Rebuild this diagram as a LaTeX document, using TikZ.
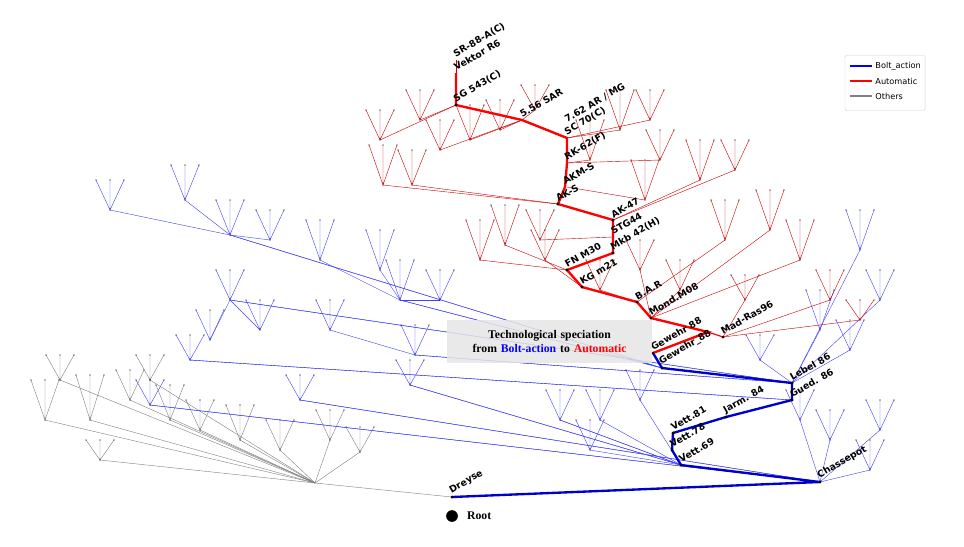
\documentclass[tikz,border=0pt]{standalone}
\usepackage{fontspec}
\setsansfont{DejaVu Sans}
\setmainfont{Liberation Serif}
\begin{document}
\begin{tikzpicture}[x=0.03cm,y=-0.03cm,
  lf/.style={circle,fill=black,inner sep=0.45pt},
  pt/.style={circle,fill=black,inner sep=1pt},
  lab/.style={font=\sffamily\bfseries\fontsize{8}{9}\selectfont,rotate=30,anchor=south west,inner sep=1pt},
  thinr/.style={red!80!black,line width=0.35pt},
  thinb/.style={blue!75,line width=0.35pt},
  thing/.style={gray,line width=0.35pt},
  mainr/.style={red,line width=2pt},
  mainb/.style={blue!80!black,line width=2pt}]
\useasboundingbox (0,0) rectangle (964,546);
\newcommand\fan[3]{\draw (#1,#2) -- ++(-14,-#3) (#1,#2) -- ++(0,-#3) (#1,#2) -- ++(14,-#3);
  \fill[black] (#1-14,#2-#3) circle (0.6pt) (#1,#2-#3) circle (0.6pt) (#1+14,#2-#3) circle (0.6pt) (#1,#2) circle (0.6pt);}
% main nodes
\foreach \n/\x/\y in {dre/452/497,cha/820/482,v69/681/465,v78/672/450,v81/673/433,jar/726/417,gue/792/400,leb/792/383,gw88/662/368,g97/653/353,g88/708/332,mad/723/337,mon/651/318,bar/637/302,kg/582/287,fn/567/270,mkb/613/253,stg/613/237,ak47/613/220,aks/558/204,akm/565/187,rk/567/163,sc/567/138,sar/522/120,sg/456/105,vek/456/73}
  \coordinate (\n) at (\x,\y);
% gray subtree
\begin{scope}[thing]
\coordinate (gb) at (315,483);
\draw (dre) -- (gb);
\foreach \x/\y/\h in {45/420/40,90/420/45,130/400/30,170/420/35,200/430/30,240/440/35,280/450/30,330/440/30,360/452/25,100/460/20,60/380/25,150/380/25}{
  \draw (gb) -- (\x,\y); \fan{\x}{\y}{\h}}
\end{scope}
% blue subtree
\begin{scope}[thinb]
\draw (cha) -- (300,400) (cha) -- (150,405) (leb) -- (415,355) (leb) -- (230,300) (gw88) -- (400,300) (gw88) -- (230,235) (v69) -- (560,420) (v69) -- (410,385) (gue) -- (190,360);
\foreach \x/\y/\h/\px/\py in {230/235/35/662/368,185/200/35/230/235,110/210/30/230/235,270/240/30/230/235,320/260/40/400/300,380/270/40/400/300,400/300/40/662/368,440/300/30/400/300,230/300/30/792/383,210/340/30/230/300,260/330/30/230/300,330/330/30/415/355,415/355/30/792/383,560/420/30/681/465,600/420/30/681/465,640/400/30/681/465,590/450/30/681/465,410/385/25/681/465,300/400/25/820/482,150/405/25/820/482,190/360/25/792/400,
 860/250/40/792/383,880/300/30/792/383,850/350/30/792/383,820/330/40/792/383,800/420/30/820/482,830/440/30/820/482,880/430/30/820/482,870/470/30/820/482,760/360/25/792/383}{
  \draw (\px,\py) -- (\x,\y); \fan{\x}{\y}{\h}}
\end{scope}
% red subtree
\begin{scope}[thinr]
\foreach \x/\y/\h/\px/\py in {383/185/40/558/204,412/185/35/558/204,440/150/30/522/120,470/140/35/522/120,500/130/30/522/120,535/110/25/522/120,590/160/40/567/163,620/130/40/567/138,650/120/30/567/138,645/200/40/567/187,700/180/40/613/220,735/170/30/613/220,725/240/40/637/302,770/230/40/651/318,800/260/40/651/318,480/260/40/567/270,505/245/40/567/270,545/260/30/582/287,600/290/30/637/302,640/270/30/651/318,680/290/30/651/318,745/300/25/723/337,830/300/30/723/337,860/320/20/723/337,420/120/30/456/105,380/140/30/456/105,540/240/30/613/237,660/160/30/567/163}{
  \draw (\px,\py) -- (\x,\y); \fan{\x}{\y}{\h}}
\draw (vek) -- (456,60);
\end{scope}
% main path
\draw[mainb] (g97) -- (gw88) -- (leb) -- (gue) -- (jar) -- (v81) -- (v78) -- (v69) -- (cha) -- (dre);
\draw[mainr] (g97) -- (g88) -- (mon) -- (bar) -- (kg) -- (fn) -- (mkb) -- (stg) -- (ak47) -- (aks) -- (akm) -- (rk) -- (sc) -- (sar) -- (sg) -- (vek);
\draw[red,line width=1pt] (g88) -- (mad);
\foreach \n in {g97,gw88,mad,leb,gue,jar,v81,v78,v69,cha,dre,mon,bar,kg,fn,mkb,ak47,aks,sg}
  \fill (\n) circle (1.3pt);
% labels
\foreach \n/\t in {dre/Dreyse,cha/Chassepot,v69/Vett.69,v78/Vett.78,v81/Vett.81,jar/Jarm. 84,gue/Gued. 86,leb/Lebel 86,gw88/Gewehr\_88,g97/Gewehr 88/97,mad/Mad-Ras96,mon/Mond.M08,bar/B.A.R,kg/KG m21,fn/FN M30,mkb/Mkb 42(H),stg/STG44,ak47/AK-47,aks/AK-S,akm/AKM-S,rk/RK-62(F),sc/SC 70(C),sar/5.56 SAR,sg/SG 543(C),vek/Vektor R6}
  \node[lab] (l\n) at (\n) {\t};
\node[lab] (l762) at (567,125) {7.62 AR / MG};
\node[lab] (lsr) at (456,60) {SR-88-A(C)};
\node[circle,fill=black,inner sep=0pt,minimum size=10pt] (root) at (452,516) {};
\node[anchor=west,font=\bfseries\fontsize{10}{11}\selectfont] (rootl) at (463,516) {Root};
% text box
\node[fill=gray!20,fill opacity=0.85,text opacity=1,inner sep=0pt,
  font=\bfseries\fontsize{10}{12.5}\selectfont,align=center,text width=6.15cm,minimum height=1.29cm] (tb) at (549.5,341.5)
  {Technological speciation\\ from \textcolor{blue}{Bolt-action} to \textcolor{red}{Automatic}};
% legend
\node[draw=gray!40,rounded corners=1pt,minimum width=2.4cm,minimum height=1.65cm] (leg) at (885,83) {};
\foreach \i/\c/\t in {0/blue/Bolt\_action,1/red/Automatic,2/gray/Others}{
  \draw[\c,line width=1pt] (850,66+15*\i) -- (872,66+15*\i);
  \node[anchor=west,font=\sffamily\fontsize{7}{8}\selectfont,inner sep=1pt] at (874,66+15*\i) {\t};}
\end{tikzpicture}
\end{document}
